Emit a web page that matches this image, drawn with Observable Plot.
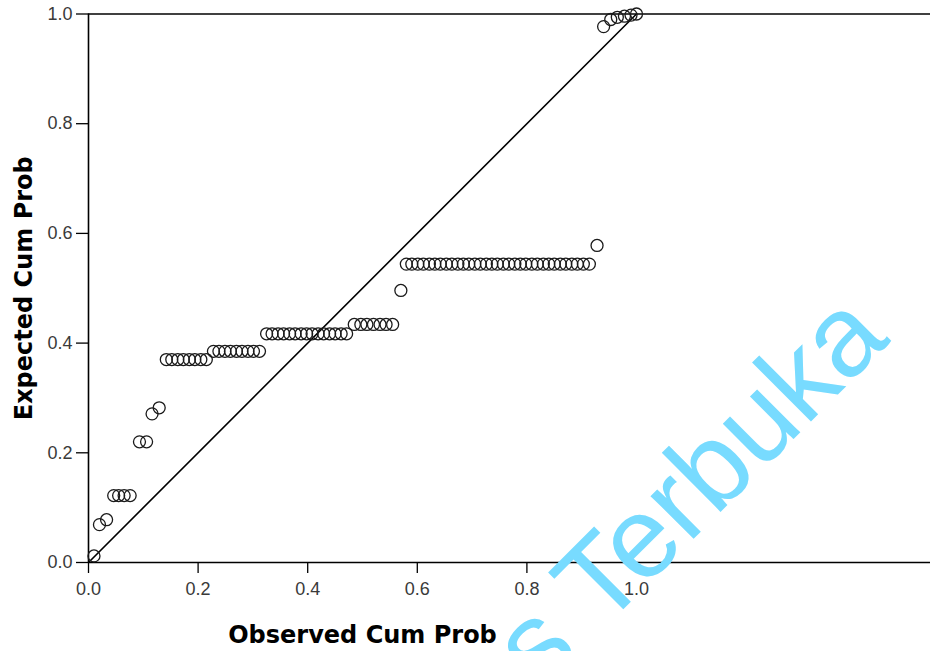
<!DOCTYPE html>
<html>
<head>
<meta charset="utf-8">
<script src="https://cdn.jsdelivr.net/npm/d3@7"></script>
<script src="https://cdn.jsdelivr.net/npm/@observablehq/plot@0.6"></script>
<style>
  html, body { margin: 0; padding: 0; background: #fff; overflow: hidden; }
  #chart svg { display: block; }
  #chart [aria-label="x-axis tick label"] text,
  #chart [aria-label="y-axis tick label"] text { fill: #3a3a3a; }
</style>
</head>
<body>
<div id="chart"></div>
<script>
// Observed cumulative probability (x) and expected cumulative probability (y)
const observed = [
  0.010,
  0.020, 0.033,
  0.046, 0.055, 0.065, 0.076,
  0.093, 0.106,
  0.116, 0.129,
  0.142, 0.152, 0.163, 0.173, 0.184, 0.194, 0.205, 0.215,
  0.228, 0.238, 0.249, 0.259, 0.270, 0.280, 0.291, 0.301, 0.312,
  0.325, 0.335, 0.346, 0.356, 0.367, 0.377, 0.388, 0.398, 0.408, 0.419, 0.429, 0.440, 0.450, 0.461, 0.471,
  0.485, 0.497, 0.508, 0.520, 0.532, 0.543, 0.555,
  0.570,
  0.580, 0.590, 0.601, 0.611, 0.622, 0.632, 0.642, 0.653, 0.663, 0.674, 0.684, 0.694, 0.705, 0.715, 0.726, 0.736, 0.746,
  0.757, 0.767, 0.778, 0.788, 0.798, 0.809, 0.819, 0.830, 0.840, 0.850, 0.861, 0.871, 0.882, 0.892, 0.903, 0.914,
  0.928,
  0.940, 0.953, 0.965, 0.978, 0.990, 1.000
];
const expected = [
  0.012,
  0.069, 0.078,
  0.122, 0.122, 0.122, 0.122,
  0.220, 0.220,
  0.271, 0.282,
  0.370, 0.370, 0.370, 0.370, 0.370, 0.370, 0.370, 0.370,
  0.385, 0.385, 0.385, 0.385, 0.385, 0.385, 0.385, 0.385, 0.385,
  0.417, 0.417, 0.417, 0.417, 0.417, 0.417, 0.417, 0.417, 0.417, 0.417, 0.417, 0.417, 0.417, 0.417, 0.417,
  0.434, 0.434, 0.434, 0.434, 0.434, 0.434, 0.434,
  0.496,
  0.544, 0.544, 0.544, 0.544, 0.544, 0.544, 0.544, 0.544, 0.544, 0.544, 0.544, 0.544, 0.544, 0.544, 0.544, 0.544, 0.544,
  0.544, 0.544, 0.544, 0.544, 0.544, 0.544, 0.544, 0.544, 0.544, 0.544, 0.544, 0.544, 0.544, 0.544, 0.544, 0.544,
  0.578,
  0.977, 0.990, 0.994, 0.996, 0.998, 1.000
];
const xTicks = [0, 0.2, 0.4, 0.6, 0.8, 1.0];
const yTicks = [0, 0.2, 0.4, 0.6, 0.8, 1.0];
const diagX = [0, 1];
const diagY = [0, 1];
const xTitle = "Observed Cum Prob";
const yTitle = "Expected Cum Prob";
const watermark = "Universitas Terbuka";

const points = observed.map((v, i) => ({x: v, y: expected[i]}));
const diag = diagX.map((v, i) => ({x: v, y: diagY[i]}));

const W = 930, H = 651;
const mL = 88, mT = 13.5, mB = 89, mR = 0;
const unit = 548; // px per 1.0 on both axes
const xMax = (W - mL - mR) / unit;

const chart = Plot.plot({
  width: W,
  height: H,
  marginLeft: mL,
  marginTop: mT,
  marginBottom: mB,
  marginRight: mR,
  style: {fontFamily: "'Liberation Sans', Arial, sans-serif", background: "#fff", overflow: "hidden"},
  x: {domain: [0, xMax]},
  y: {domain: [0, 1]},
  marks: [
    Plot.ruleY([0, 1], {stroke: "#000", strokeWidth: 1.6}),
    Plot.ruleX([0], {stroke: "#000", strokeWidth: 1.6}),
    Plot.axisY({
      ticks: yTicks, tickSize: 12, tickPadding: 4, tickFormat: d3.format(".1f"),
      fontSize: 18, label: null, stroke: "#000", strokeWidth: 1.3
    }),
    Plot.axisX({
      ticks: xTicks, tickSize: 11, tickPadding: 9, tickFormat: d3.format(".1f"),
      fontSize: 18, label: null, stroke: "#000", strokeWidth: 1.3
    }),
    Plot.line(diag, {x: "x", y: "y", stroke: "#000", strokeWidth: 1.6}),
    Plot.dot(points, {x: "x", y: "y", r: 6, stroke: "#1a1a1a", strokeWidth: 1.3, fill: "none"}),
    Plot.text([xTitle], {
      text: d => d, x: () => 0.5, frameAnchor: "bottom", dy: 80, lineAnchor: "bottom", textAnchor: "middle",
      fontSize: 24, fontWeight: "bold", fontFamily: "'DejaVu Sans', sans-serif", fill: "#000"
    }),
    Plot.text([yTitle], {
      text: d => d, frameAnchor: "left", dx: -57, rotate: -90, lineAnchor: "bottom", textAnchor: "middle",
      fontSize: 24, fontWeight: "bold", fontFamily: "'DejaVu Sans', sans-serif", fill: "#000"
    }),
    Plot.text([watermark], {
      text: d => d, frameAnchor: "top-left", dx: 803, dy: 327, rotate: -45,
      textAnchor: "end", lineAnchor: "bottom",
      fontSize: 115, fontFamily: "'Liberation Sans', Arial, sans-serif", fill: "#78dbff"
    })
  ]
});
document.getElementById("chart").appendChild(chart);
</script>
</body>
</html>
